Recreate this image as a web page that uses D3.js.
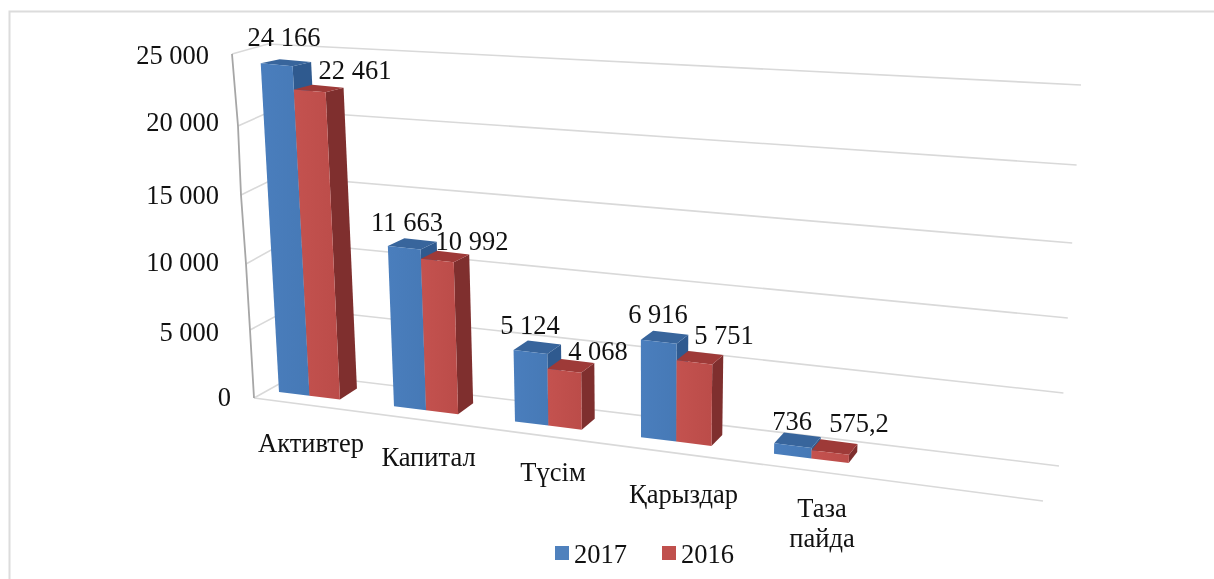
<!DOCTYPE html>
<html><head><meta charset="utf-8">
<script src="https://cdn.jsdelivr.net/npm/d3@7/dist/d3.min.js"></script>
<style>html,body{margin:0;padding:0;background:#fff}svg{display:block;filter:blur(0.4px)}text{font-family:"Liberation Serif",serif;fill:#111}</style>
</head><body><svg id="c" width="1214" height="579"></svg>
<script>
const categories = ["Активтер","Капитал","Түсім","Қарыздар","Таза пайда"];
const series2017 = [24166,11663,5124,6916,736];
const series2016 = [22461,10992,4068,5751,575.2];
const labels2017 = ["24 166","11 663","5 124","6 916","736"];
const labels2016 = ["22 461","10 992","4 068","5 751","575,2"];
const yTicks = [0,5000,10000,15000,20000,25000];
const yTickLabels = ["0","5 000","10 000","15 000","20 000","25 000"];
const seriesNames = ["2017","2016"];

const svg = d3.select("#c");
const FS = 26.5;

// frame
svg.append("path").attr("d","M9.5,579V11.5H1214").attr("fill","none").attr("stroke","#dcdcdc").attr("stroke-width",2);

// wall scales
const fx = d3.scaleLinear().domain(yTicks).range([254,250,246,241,238,232]);
const fy = d3.scaleLinear().domain(yTicks).range([398,330,264,195,126,54]);
const bx = d3.scaleLinear().domain([0,25000]).range([297,268]);
const by = d3.scaleLinear().domain([0,25000]).range([374,44]);
const rx = d3.scaleLinear().domain([0,25000]).range([1059,1081]);
const ry = d3.scaleLinear().domain(yTicks).range([466,393,318,243,165,85]);

const grid = svg.append("g").attr("fill","none").attr("stroke","#d9d9d9").attr("stroke-width",1.6);
grid.selectAll("path").data(yTicks).join("path")
  .attr("d",t=>d3.line()([[fx(t),fy(t)],[bx(t),by(t)],[rx(t),ry(t)]]));
// floor front edge and axis
grid.append("path").attr("d",d3.line()([[fx(0),fy(0)],[1043,501]]));
svg.append("path").attr("d",d3.line()(yTicks.map(t=>[fx(t),fy(t)])))
  .attr("fill","none").attr("stroke","#a6a6a6").attr("stroke-width",1.8);

// y tick labels
svg.append("g").selectAll("text").data(yTicks).join("text")
  .attr("text-anchor","end").attr("font-size",FS)
  .attr("y",(t,i)=>[406,341,271,204,131,64][i])
  .attr("x",(t,i)=>[231,219,219,219,219,209][i])
  .text((t,i)=>yTickLabels[i]);

// bar projection
const catX = d3.scaleLinear().domain([0,1,2,3,4,5]).range([279,394,515,641,774,915]);
const groupFrac = 0.53;
const valH = d3.scaleLinear().domain([0,25000]).range([0,340]);
function project(u,v,d){
  const xf = catX(u);
  const yb = 392 + 0.1248*(xf-279);
  const h = valH(v)*(1+0.0001*(xf-279));
  const lean = (650-xf)*0.00015;
  const x0 = xf - lean*h, y0 = yb - h;
  const dx = 17+(339-xf)*0.0167+0.003*h;
  const dy = -11+0.021*h;
  return [x0+dx*d, y0+dy*d];
}
const poly = pts => d3.line()(pts)+"Z";
const colors = [
  {top:"#38659c",side:"#2f5a8f"},
  {top:"#9e3a38",side:"#7f2f2e"}
];
const defs = svg.append("defs");
colors.forEach((c,i)=>{
  const g = defs.append("linearGradient").attr("id","g"+i).attr("x1",0).attr("x2",1).attr("y1",0).attr("y2",0);
  g.append("stop").attr("offset",0).attr("stop-color",i?"#c4524f":"#4a7ebd");
  g.append("stop").attr("offset",1).attr("stop-color",i?"#bb4c49":"#4679b6");
});

const bars = svg.append("g");
[0,1,2,3,4].forEach(i=>{
  [[series2017,0],[series2016,1]].forEach(([vals,s])=>{
    const v = vals[i], c = colors[s];
    const u0 = i + s*groupFrac/2, u1 = u0 + groupFrac/2;
    const g = bars.append("g");
    g.append("path").attr("fill",c.side)
      .attr("d",poly([project(u1,0,0),project(u1,v,0),project(u1,v,1),project(u1,0,1)]));
    g.append("path").attr("fill",c.top)
      .attr("d",poly([project(u0,v,0),project(u1,v,0),project(u1,v,1),project(u0,v,1)]));
    g.append("path").attr("fill",`url(#g${s})`)
      .attr("d",poly([project(u0,0,0),project(u1,0,0),project(u1,v,0),project(u0,v,0)]));
  });
});

// data labels: anchor centre/baseline
const lab17Pos = [[284,46],[407,231],[530,334],[658,323],[792,430]];
const lab16Pos = [[355,79],[472,250],[598,360],[724,344],[859,432]];
const labs = svg.append("g").attr("font-size",FS).attr("text-anchor","middle");
labs.selectAll(".a").data(labels2017).join("text").attr("class","a")
  .attr("x",(d,i)=>lab17Pos[i][0]).attr("y",(d,i)=>lab17Pos[i][1]).text(d=>d);
labs.selectAll(".b").data(labels2016).join("text").attr("class","b")
  .attr("x",(d,i)=>lab16Pos[i][0]).attr("y",(d,i)=>lab16Pos[i][1]).text(d=>d);

// category labels
const catPos = [[311,452],[428.5,466],[553,481],[683.5,503]];
const cats = svg.append("g").attr("font-size",FS).attr("text-anchor","middle");
cats.selectAll("text").data(categories.slice(0,4)).join("text")
  .attr("x",(d,i)=>catPos[i][0]).attr("y",(d,i)=>catPos[i][1]).text(d=>d);
const last = categories[4].split(" ");
cats.append("text").attr("x",822).attr("y",517).text(last[0]);
cats.append("text").attr("x",822).attr("y",547).text(last[1]);

// legend
const legend = svg.append("g").attr("font-size",FS);
const legX = [555,662];
seriesNames.forEach((n,i)=>{
  legend.append("rect").attr("x",legX[i]).attr("y",546).attr("width",14).attr("height",14).attr("fill",i?"#c0504d":"#4f81bd");
  legend.append("text").attr("x",legX[i]+19).attr("y",563).text(n);
});
</script></body></html>
